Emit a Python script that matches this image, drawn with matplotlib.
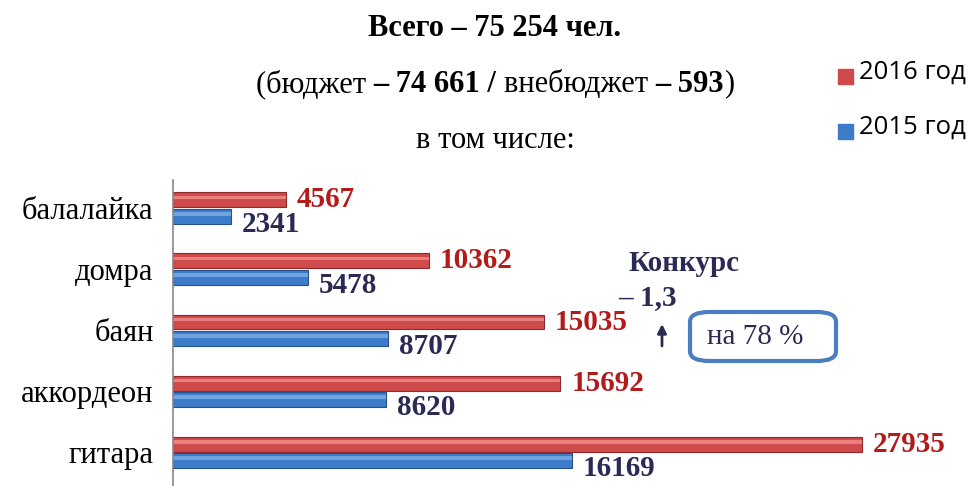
import matplotlib.pyplot as plt
from matplotlib.patches import FancyBboxPatch, FancyArrowPatch, Rectangle
import numpy as np

instruments = ['балалайка', 'домра', 'баян', 'аккордеон', 'гитара']
values_2016 = [4567, 10362, 15035, 15692, 27935]
values_2015 = [2341, 5478, 8707, 8620, 16169]

red = '#CF4A4A'
red_dark = '#8E2A2A'
red_text = '#B31B1B'
blue = '#3D7CC8'
blue_dark = '#26508A'
navy = '#2B2A55'

serif = ['Liberation Serif', 'DejaVu Serif']
sans = ['Open Sans', 'DejaVu Sans']

W, H = 970, 486


def fx(px):
    return px / W


def fy(py):
    return 1 - py / H


fig = plt.figure(figsize=(9.7, 4.86), dpi=100)
ax = fig.add_axes([fx(173), 0.0, 0.8137, 306 / H])

y = np.arange(len(instruments))
h = 0.245
off = 0.135
ax.barh(y - off, values_2016, height=h, color=red, edgecolor=red_dark, linewidth=0.8)
ax.barh(y + off, values_2015, height=h, color=blue, edgecolor=blue_dark, linewidth=0.8)
# light stripe for the glossy look
ax.barh(y - off - 0.04, values_2016, height=0.06, color='#E88080', linewidth=0)
ax.barh(y + off - 0.04, values_2015, height=0.06, color='#6FA4E0', linewidth=0)

for yi, v in zip(y, values_2016):
    ax.text(v + 450, yi - off, str(v), color=red_text, fontsize=21, fontweight='bold',
            family=serif, va='center', ha='left')
for yi, v in zip(y, values_2015):
    ax.text(v + 450, yi + off + 0.13, str(v), color=navy, fontsize=21, fontweight='bold',
            family=serif, va='center', ha='left')

ax.set_xlim(0, 32000)
ax.set_ylim(4.55, -0.46)
ax.set_xticks([])
ax.set_yticks(y)
ax.set_yticklabels(instruments, family=serif, fontsize=22)
ax.tick_params(axis='y', length=0, pad=14)
for s in ['top', 'right', 'bottom']:
    ax.spines[s].set_visible(False)
ax.spines['left'].set_color('#888888')
ax.spines['left'].set_linewidth(1.2)

# titles
fig.text(fx(495), fy(28), 'Всего – 75 254 чел.', ha='center', va='center',
         family=serif, fontsize=22, fontweight='bold')

renderer = fig.canvas.get_renderer()
parts = [('(бюджет ', 'normal'), ('– 74 661 / ', 'bold'), ('внебюджет ', 'normal'),
         ('– 593', 'bold'), (')', 'normal')]
texts = []
for s, w in parts:
    texts.append(fig.text(0, fy(84), s, ha='left', va='center', family=serif,
                          fontsize=22, fontweight=w))
widths = [t.get_window_extent(renderer).width for t in texts]
x0 = 495 - sum(widths) / 2
for t, w in zip(texts, widths):
    t.set_x(fx(x0))
    x0 += w

fig.text(fx(495), fy(140), 'в том числе:', ha='center', va='center',
         family=serif, fontsize=22)

# legend
fig.patches.append(Rectangle((fx(838), fy(84)), fx(15), 15 / H,
                             transform=fig.transFigure, color=red, figure=fig))
fig.text(fx(859), fy(72), '2016 год', family=sans, fontsize=18.5, va='center')
fig.patches.append(Rectangle((fx(838), fy(139)), fx(15), 15 / H,
                             transform=fig.transFigure, color=blue, figure=fig))
fig.text(fx(859), fy(127), '2015 год', family=sans, fontsize=18.5, va='center')

# competition note
fig.text(fx(684), fy(263), 'Конкурс', ha='center', va='center', family=serif,
         fontsize=21, fontweight='bold', color=navy)
fig.text(fx(647), fy(298), '– 1,3', ha='center', va='center', family=serif,
         fontsize=21, fontweight='bold', color=navy)
fig.patches.append(FancyArrowPatch((fx(662), fy(346)), (fx(662), fy(324)),
                                   transform=fig.transFigure, arrowstyle='-|>',
                                   mutation_scale=13, color=navy, lw=2,
                                   shrinkA=0, shrinkB=0, figure=fig))
fig.patches.append(FancyBboxPatch((fx(690), fy(361)), fx(146), 49 / H,
                                  boxstyle='round,pad=0,rounding_size=0.02',
                                  transform=fig.transFigure, fc='white',
                                  ec='#4A7EC0', lw=3, figure=fig))
fig.text(fx(755), fy(337), 'на 78 %', ha='center', va='center', family=serif,
         fontsize=21, color=navy)

fig.savefig('out.png', dpi=100)
